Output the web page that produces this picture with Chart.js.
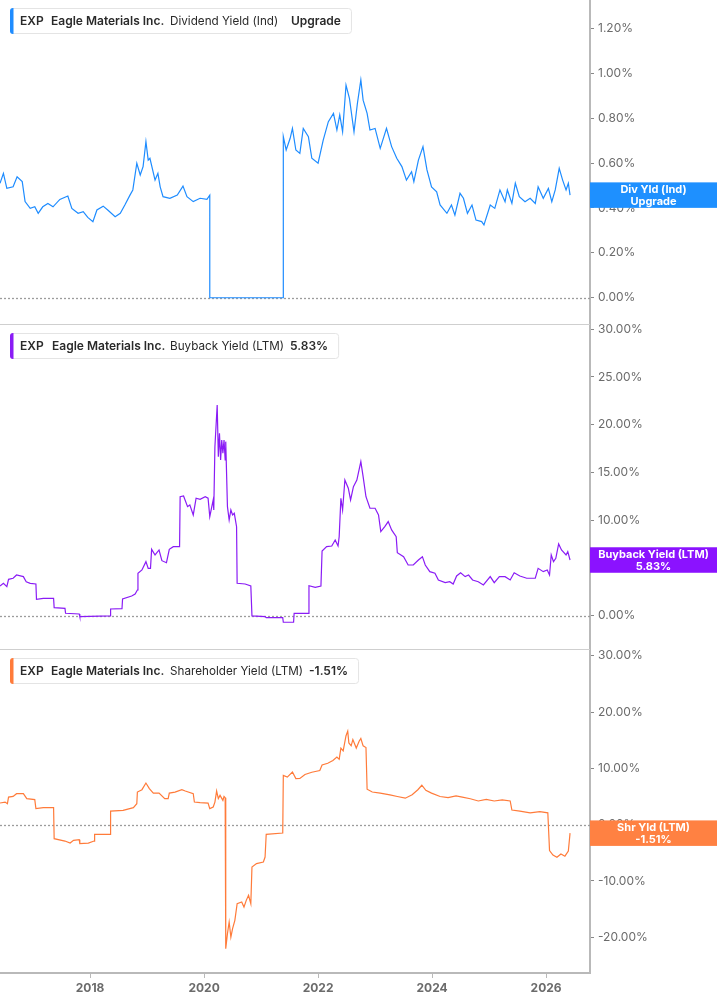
<!DOCTYPE html>
<html>
<head>
<meta charset="utf-8">
<script src="https://cdn.jsdelivr.net/npm/chart.js@4.4.0/dist/chart.umd.min.js"></script>
<style>
  html, body { margin: 0; padding: 0; background: #fff; }
  #wrap { position: relative; width: 717px; height: 1005px; }
  .pane { position: absolute; left: 0; width: 717px; }
</style>
</head>
<body>
<div id="wrap">
  <div class="pane" style="top:0;height:324px"><canvas id="c-div"></canvas></div>
  <div class="pane" style="top:324px;height:325px"><canvas id="c-buy"></canvas></div>
  <div class="pane" style="top:649px;height:356px"><canvas id="c-shr"></canvas></div>
</div>
<script>
// dates as decimal years, values in %
const divYears = [2016.42,2016.48,2016.54,2016.65,2016.72,2016.81,2016.86,2016.95,2017.03,2017.09,2017.17,2017.26,2017.35,2017.47,2017.61,2017.68,2017.79,2017.88,2017.96,2018.05,2018.12,2018.23,2018.31,2018.44,2018.53,2018.61,2018.70,2018.75,2018.82,2018.88,2018.93,2018.98,2019.02,2019.05,2019.14,2019.19,2019.23,2019.28,2019.40,2019.53,2019.63,2019.70,2019.81,2019.93,2020.05,2020.10,2020.10,2021.39,2021.39,2021.44,2021.51,2021.55,2021.61,2021.68,2021.74,2021.83,2021.89,2022.00,2022.09,2022.18,2022.27,2022.33,2022.38,2022.43,2022.49,2022.55,2022.63,2022.69,2022.75,2022.79,2022.86,2022.91,2023.00,2023.09,2023.20,2023.29,2023.38,2023.47,2023.55,2023.64,2023.68,2023.76,2023.84,2023.91,2023.99,2024.08,2024.14,2024.26,2024.34,2024.40,2024.49,2024.55,2024.62,2024.70,2024.77,2024.87,2024.91,2025.02,2025.10,2025.19,2025.28,2025.32,2025.40,2025.46,2025.53,2025.63,2025.72,2025.81,2025.86,2025.95,2026.04,2026.10,2026.16,2026.23,2026.29,2026.35,2026.39,2026.42];
const divYield = [0.51,0.554,0.487,0.494,0.539,0.517,0.428,0.398,0.405,0.376,0.405,0.42,0.405,0.438,0.453,0.398,0.376,0.383,0.358,0.339,0.391,0.408,0.391,0.361,0.376,0.413,0.457,0.48,0.599,0.547,0.584,0.695,0.613,0.621,0.524,0.554,0.494,0.45,0.443,0.457,0.497,0.45,0.428,0.443,0.438,0.457,0,0,0.717,0.658,0.71,0.754,0.658,0.643,0.754,0.717,0.621,0.599,0.702,0.784,0.821,0.747,0.814,0.739,0.947,0.888,0.739,0.866,0.97,0.88,0.821,0.747,0.754,0.665,0.754,0.673,0.621,0.584,0.524,0.561,0.517,0.613,0.673,0.569,0.494,0.472,0.413,0.376,0.413,0.368,0.465,0.443,0.376,0.413,0.346,0.339,0.324,0.413,0.398,0.48,0.428,0.48,0.42,0.51,0.45,0.428,0.443,0.42,0.494,0.443,0.487,0.428,0.48,0.576,0.524,0.48,0.51,0.457];

const buyYears = [2016.42,2016.48,2016.54,2016.57,2016.65,2016.71,2016.83,2016.88,2016.95,2017.05,2017.06,2017.18,2017.36,2017.37,2017.56,2017.57,2017.81,2017.82,2018.35,2018.36,2018.56,2018.57,2018.73,2018.79,2018.83,2018.84,2018.91,2018.98,2019.02,2019.06,2019.08,2019.14,2019.21,2019.26,2019.34,2019.39,2019.46,2019.57,2019.58,2019.64,2019.71,2019.75,2019.81,2019.86,2019.93,2020.02,2020.07,2020.10,2020.16,2020.17,2020.19,2020.23,2020.25,2020.27,2020.29,2020.31,2020.33,2020.35,2020.37,2020.38,2020.41,2020.44,2020.47,2020.50,2020.53,2020.57,2020.58,2020.72,2020.82,2020.84,2021.07,2021.09,2021.38,2021.39,2021.57,2021.58,2021.83,2021.84,2021.95,2022.05,2022.07,2022.15,2022.24,2022.30,2022.35,2022.37,2022.40,2022.43,2022.47,2022.53,2022.57,2022.62,2022.68,2022.75,2022.79,2022.84,2022.91,2023.00,2023.06,2023.10,2023.17,2023.23,2023.29,2023.37,2023.39,2023.50,2023.58,2023.67,2023.76,2023.83,2023.88,2023.96,2024.05,2024.11,2024.23,2024.31,2024.37,2024.43,2024.50,2024.58,2024.64,2024.71,2024.81,2024.90,2025.02,2025.09,2025.18,2025.28,2025.37,2025.44,2025.54,2025.66,2025.81,2025.86,2025.95,2026.02,2026.06,2026.09,2026.13,2026.17,2026.22,2026.27,2026.35,2026.38,2026.42];
const buyYield = [3.11,3.39,3.04,3.81,3.92,4.26,4.09,3.56,3.39,3.32,1.72,1.82,1.82,0.84,0.77,0.25,0.18,-0.10,-0.03,0.70,0.73,1.75,2.06,2.27,2.69,4.44,4.79,5.66,4.96,4.96,6.95,6.36,6.88,5.76,5.55,6.95,7.23,7.23,12.46,12.54,11.42,11.60,10.55,12.30,12.19,12.46,12.30,10.37,12.12,11.07,17.70,22.07,16.65,19.10,16.31,18.40,17.01,18.40,16.31,18.23,11.42,10.02,11.07,10.55,10.72,9.32,3.39,3.32,3.11,-0.03,-0.10,-0.21,-0.21,-0.69,-0.69,0.25,0.25,3.14,2.97,3.11,6.78,7.23,7.30,7.93,7.30,8.28,12.30,11.07,14.21,13.35,12.12,13.51,14.21,16.13,14.56,12.46,11.25,11.25,10.55,8.80,9.32,9.85,8.98,8.28,6.60,6.18,5.31,5.31,5.83,6.18,5.31,4.61,4.44,3.74,3.46,3.56,3.32,4.16,4.50,4.09,4.26,3.74,3.56,3.22,4.09,3.46,4.09,4.09,3.74,4.50,4.16,3.92,3.92,4.96,4.61,4.79,4.26,6.36,5.66,6.01,7.51,6.88,6.36,6.70,5.83];

const shrYears = [2016.42,2016.51,2016.55,2016.57,2016.65,2016.71,2016.83,2016.89,2017.03,2017.05,2017.18,2017.36,2017.37,2017.56,2017.65,2017.71,2017.81,2017.82,2017.97,2018.07,2018.08,2018.35,2018.36,2018.58,2018.76,2018.82,2018.83,2018.91,2018.98,2019.04,2019.11,2019.21,2019.31,2019.37,2019.39,2019.49,2019.61,2019.67,2019.81,2019.83,2019.93,2020.07,2020.10,2020.16,2020.19,2020.22,2020.25,2020.28,2020.33,2020.35,2020.37,2020.38,2020.41,2020.44,2020.47,2020.50,2020.54,2020.58,2020.66,2020.70,2020.74,2020.78,2020.82,2020.84,2020.92,2021.04,2021.07,2021.09,2021.38,2021.39,2021.46,2021.55,2021.61,2021.68,2021.77,2021.89,2022.03,2022.07,2022.17,2022.26,2022.33,2022.37,2022.40,2022.44,2022.49,2022.52,2022.54,2022.58,2022.61,2022.67,2022.72,2022.75,2022.79,2022.84,2022.86,2022.95,2023.09,2023.26,2023.39,2023.53,2023.65,2023.75,2023.82,2023.89,2023.99,2024.14,2024.28,2024.42,2024.53,2024.67,2024.81,2024.95,2025.09,2025.23,2025.37,2025.40,2025.54,2025.72,2025.89,2026.03,2026.06,2026.12,2026.19,2026.26,2026.33,2026.39,2026.42];
const shrYield = [3.84,4.01,3.73,4.90,5.02,5.50,5.50,4.62,4.44,2.84,3.02,3.02,-2.49,-2.91,-3.27,-2.79,-2.66,-3.37,-3.27,-2.91,-1.72,-1.72,2.41,2.54,3.02,3.73,5.79,6.21,7.39,6.39,5.61,5.61,4.62,4.62,5.61,5.79,6.21,5.97,5.50,4.01,3.91,3.84,2.84,3.13,4.01,5.97,4.62,5.20,4.31,5.02,4.79,-22.02,-19.35,-17.29,-19.96,-18.47,-16.99,-14.03,-13.74,-14.63,-13.44,-12.55,-14.03,-7.53,-6.92,-6.64,-5.75,-1.72,-1.49,8.75,8.45,9.34,8.17,8.2,8.9,9.3,9.6,10.6,10.9,11.4,12.0,11.6,13.6,13.1,15.8,16.6,14.5,14.0,15.1,13.6,14.8,15.3,14.0,13.7,6.3,5.8,5.6,5.3,5.0,4.7,5.3,6.2,7.0,6.1,5.6,5.0,4.8,5.1,4.9,4.6,4.2,4.5,4.2,4.4,4.2,2.6,2.4,2.1,2.3,2.1,-4.6,-5.4,-5.8,-5.2,-5.6,-4.7,-1.51];

const yearTicks = [2018, 2020, 2022, 2024, 2026];
const divTicks = [0, 0.2, 0.4, 0.6, 0.8, 1.0, 1.2];
const buyTicks = [0, 5, 10, 15, 20, 25, 30];
const shrTicks = [-20, -10, 0, 10, 20, 30];

const X_MIN = 2016.42, X_MAX = 2026.77;
const FONT = 'Inter, "Noto Sans", sans-serif';
const AXIS_GREY = '#b9b9b9';

function deco(o) {
  return {
    id: 'deco',
    beforeDatasetsDraw(chart) {
      const ctx = chart.ctx, a = chart.chartArea;
      const y0 = Math.round(chart.scales.y.getPixelForValue(0)) + 0.5;
      ctx.save();
      // zero line
      ctx.strokeStyle = '#9c9c9c'; ctx.lineWidth = 1.3; ctx.setLineDash([2, 2]);
      ctx.beginPath(); ctx.moveTo(a.left, y0); ctx.lineTo(a.right, y0); ctx.stroke();
      ctx.setLineDash([]);
      if (o.separator) {
        ctx.strokeStyle = '#cfcfcf'; ctx.lineWidth = 1;
        ctx.beginPath(); ctx.moveTo(a.left, a.top + 0.5); ctx.lineTo(a.right, a.top + 0.5); ctx.stroke();
      }
      ctx.restore();
    },
    afterDraw(chart) {
      const ctx = chart.ctx, a = chart.chartArea;
      ctx.save();
      // title box top left
      const top = a.top + o.boxTop, h = 25;
      const last = o.pieces[o.pieces.length - 1];
      ctx.font = '600 12px ' + FONT;
      const right = last.x + ctx.measureText(last.t).width + 10;
      ctx.fillStyle = '#fff'; ctx.strokeStyle = '#e4e4e4'; ctx.lineWidth = 1;
      ctx.beginPath(); ctx.roundRect(10.5, top + 0.5, right - 10, h, 3); ctx.fill(); ctx.stroke();
      ctx.fillStyle = o.color;
      ctx.beginPath(); ctx.roundRect(10, top, 3.5, h + 1, [3, 0, 0, 3]); ctx.fill();
      ctx.textBaseline = 'middle'; ctx.textAlign = 'left';
      o.pieces.forEach(p => {
        ctx.font = (p.b ? '600 ' : '400 ') + (p.b ? '12px ' : '11.7px ') + FONT;
        ctx.fillStyle = '#2a2a2a';
        ctx.fillText(p.t, p.x, top + h / 2 + 1);
      });
      // value tag on the right axis
      const data = chart.data.datasets[0].data;
      const yl = chart.scales.y.getPixelForValue(data[data.length - 1].y);
      const th = 25.5;
      ctx.fillStyle = o.tagColor;
      ctx.fillRect(a.right, yl - th / 2, chart.width - a.right, th);
      ctx.fillStyle = '#fff'; ctx.font = '700 11px ' + FONT; ctx.textAlign = 'center';
      const cx = (a.right + chart.width) / 2;
      ctx.fillText(o.tag[0], cx, yl - 5);
      ctx.fillText(o.tag[1], cx, yl + 6.5);
      ctx.restore();
    }
  };
}

function makeChart(id, o) {
  const pts = o.years.map((x, i) => ({ x, y: o.values[i] }));
  return new Chart(document.getElementById(id), {
    type: 'line',
    data: { datasets: [{ data: pts, borderColor: o.color, borderWidth: 1.2, pointRadius: 0, tension: 0, fill: false }] },
    options: {
      responsive: true, maintainAspectRatio: false, animation: false, events: [],
      layout: { padding: 0, autoPadding: false },
      plugins: { legend: { display: false }, tooltip: { enabled: false } },
      scales: {
        x: {
          type: 'linear', min: X_MIN, max: X_MAX, display: o.showX,
          border: { color: AXIS_GREY, width: 2 },
          grid: { drawOnChartArea: false, tickLength: 5, tickColor: AXIS_GREY },
          ticks: { color: '#6b6b6b', font: { family: FONT, size: 12, weight: 'bold' }, padding: 3, maxRotation: 0, autoSkip: false, callback: v => String(v) },
          afterBuildTicks: s => { s.ticks = yearTicks.map(v => ({ value: v })); },
          afterFit: s => { if (o.showX) s.height = 32; s.paddingLeft = 0; s.paddingRight = 0; }
        },
        y: {
          position: 'right', min: o.min, max: o.max,
          border: { color: AXIS_GREY, width: 2 },
          grid: { drawOnChartArea: false, tickLength: 4, tickColor: '#888' },
          ticks: { color: '#6b6b6b', font: { family: FONT, size: 12 }, padding: 4, autoSkip: false, callback: v => v.toFixed(2) + '%' },
          afterBuildTicks: s => { s.ticks = o.ticks.map(v => ({ value: v })); },
          afterFit: s => { s.width = 127; s.paddingTop = 0; s.paddingBottom = 0; }
        }
      }
    },
    plugins: [deco(o)]
  });
}

const lastBuy = buyYield[buyYield.length - 1].toFixed(2) + '%';
const lastShr = shrYield[shrYield.length - 1].toFixed(2) + '%';

makeChart('c-div', {
  years: divYears, values: divYield, ticks: divTicks, min: -0.117, max: 1.326,
  color: '#1e8cff', tagColor: '#1e90ff', showX: false, separator: false, boxTop: 8,
  pieces: [{ t: 'EXP', x: 20, b: true }, { t: 'Eagle Materials Inc.', x: 51, b: true }, { t: 'Dividend Yield (Ind)', x: 170 }, { t: 'Upgrade', x: 291, b: true }],
  tag: ['Div Yld (Ind)', 'Upgrade']
});
makeChart('c-buy', {
  years: buyYears, values: buyYield, ticks: buyTicks, min: -3.49, max: 30.55,
  color: '#8a1cf5', tagColor: '#8b12ff', showX: false, separator: true, boxTop: 9,
  pieces: [{ t: 'EXP', x: 20, b: true }, { t: 'Eagle Materials Inc.', x: 52, b: true }, { t: 'Buyback Yield (LTM)', x: 170 }, { t: lastBuy, x: 290, b: true }],
  tag: ['Buyback Yield (LTM)', lastBuy]
});
makeChart('c-shr', {
  years: shrYears, values: shrYield, ticks: shrTicks, min: -26.34, max: 31.19,
  color: '#ff7b3a', tagColor: '#ff8142', showX: true, separator: true, boxTop: 9,
  pieces: [{ t: 'EXP', x: 20, b: true }, { t: 'Eagle Materials Inc.', x: 51, b: true }, { t: 'Shareholder Yield (LTM)', x: 170 }, { t: lastShr, x: 309, b: true }],
  tag: ['Shr Yld (LTM)', lastShr]
});
</script>
</body>
</html>
